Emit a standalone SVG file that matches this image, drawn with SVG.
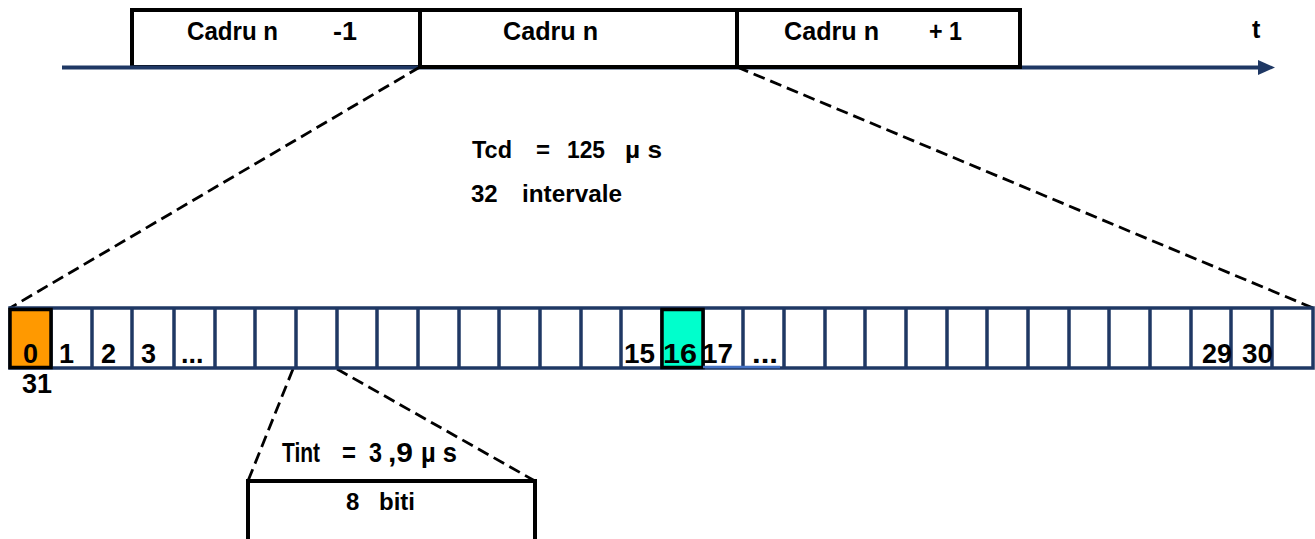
<svg xmlns="http://www.w3.org/2000/svg" width="1315" height="539" viewBox="0 0 1315 539">
<defs>
<style>
.t{font-family:"Liberation Sans",Arial,sans-serif;font-weight:bold;fill:#000}
.f{font-size:25px}
.n{font-size:27px}
.m{font-size:24px}
.w{font-size:27px}
.box{fill:#fff;stroke:#000;stroke-width:4}
.cell{fill:#fff;stroke:#1f3864;stroke-width:3.5}
.dash{fill:none;stroke:#000;stroke-width:2.8;stroke-dasharray:12 6}
</style>
<marker id="arr" viewBox="0 0 17 15" refX="4" refY="7.5" markerWidth="17" markerHeight="15" orient="auto" markerUnits="userSpaceOnUse">
<path d="M0,0 L17,7.5 L0,15 z" fill="#1f3864"/>
</marker>
</defs>
<rect width="1315" height="539" fill="#fff"/>

<g id="frame-prev">
<rect class="box" x="132" y="10" width="288" height="57"/>
<text class="t f" x="187" y="40" textLength="91" lengthAdjust="spacingAndGlyphs">Cadru n</text>
<text class="t f" x="333" y="40" textLength="24" lengthAdjust="spacingAndGlyphs">-1</text>
</g>

<g id="connectors">
<line x1="62" y1="67.5" x2="1262" y2="67.5" stroke="#1f3864" stroke-width="4" marker-end="url(#arr)"/>
<line class="dash" x1="420" y1="67" x2="10" y2="308"/>
<line class="dash" x1="737" y1="67" x2="1313" y2="308"/>
<line class="dash" x1="293" y1="369" x2="248" y2="481"/>
<line class="dash" x1="337" y1="369" x2="535" y2="481"/>
</g>

<g id="frame-n">
<rect class="box" x="420" y="10" width="317" height="57"/>
<text class="t f" x="503" y="40" textLength="95" lengthAdjust="spacingAndGlyphs">Cadru n</text>
</g>

<g id="frame-next">
<rect class="box" x="737" y="10" width="283" height="57"/>
<text class="t f" x="784" y="40" textLength="95" lengthAdjust="spacingAndGlyphs">Cadru n</text>
<text class="t f" x="929" y="40" textLength="33" lengthAdjust="spacingAndGlyphs">+ 1</text>
</g>

<g id="axis-label">
<text class="t f" x="1252" y="38">t</text>
</g>

<g id="info">
<text class="t m" x="472" y="158" textLength="40" lengthAdjust="spacingAndGlyphs">Tcd</text>
<text class="t m" x="536" y="158">=</text>
<text class="t m" x="567" y="158" textLength="38" lengthAdjust="spacingAndGlyphs">125</text>
<text class="t m" x="625" y="158" textLength="37" lengthAdjust="spacingAndGlyphs">µ s</text>
<text class="t m" x="471" y="202">32</text>
<text class="t m" x="522" y="202" textLength="100" lengthAdjust="spacingAndGlyphs">intervale</text>
</g>

<g id="frame-grid">
<rect class="cell" x="10" y="308" width="1303" height="60"/>
<path stroke="#1f3864" stroke-width="3.5" d="M51,308V368M92,308V368M132,308V368M174,308V368M215,308V368M255,308V368M296,308V368M337,308V368M377,308V368M418,308V368M459,308V368M499,308V368M540,308V368M581,308V368M621,308V368M662,308V368M703,308V368M743,308V368M784,308V368M825,308V368M865,308V368M906,308V368M947,308V368M987,308V368M1028,308V368M1069,308V368M1109,308V368M1150,308V368M1191,308V368M1231,308V368M1272,308V368"/>
<rect x="10" y="309.5" width="41" height="58" fill="#ff9900" stroke="#000" stroke-width="3.5"/>
<rect x="662" y="309.5" width="41" height="58" fill="#00ffcc" stroke="#000" stroke-width="3.5"/>
<line x1="703" y1="367" x2="780" y2="367" stroke="#4472c4" stroke-width="2.5"/>
<text class="t n" x="23" y="363">0</text>
<text class="t n" x="22" y="393">31</text>
<text class="t n" x="59" y="363">1</text>
<text class="t n" x="101" y="363">2</text>
<text class="t n" x="141" y="363">3</text>
<text class="t n" x="181" y="363">...</text>
<text class="t n" x="624" y="363" textLength="31" lengthAdjust="spacingAndGlyphs">15</text>
<text class="t n" x="663" y="363" textLength="34" lengthAdjust="spacingAndGlyphs">16</text>
<text class="t n" x="702" y="363" textLength="31" lengthAdjust="spacingAndGlyphs">17</text>
<text class="t n" x="752" y="363" textLength="26" lengthAdjust="spacingAndGlyphs">...</text>
<text class="t n" x="1202" y="363" textLength="30" lengthAdjust="spacingAndGlyphs">29</text>
<text class="t n" x="1242" y="363" textLength="31" lengthAdjust="spacingAndGlyphs">30</text>
</g>

<g id="interval">
<text class="t w" x="282" y="462" textLength="38" lengthAdjust="spacingAndGlyphs">Tint</text>
<text class="t w" x="342" y="462" textLength="14" lengthAdjust="spacingAndGlyphs">=</text>
<text class="t w" x="369" y="462" textLength="13" lengthAdjust="spacingAndGlyphs">3</text>
<text class="t w" x="388" y="462" textLength="25" lengthAdjust="spacingAndGlyphs">,9</text>
<text class="t w" x="421" y="462" textLength="36" lengthAdjust="spacingAndGlyphs">µ s</text>
<rect class="box" x="248" y="481" width="287" height="60"/>
<text class="t m" x="346" y="510">8</text>
<text class="t m" x="379" y="510" textLength="36" lengthAdjust="spacingAndGlyphs">biti</text>
</g>
</svg>
